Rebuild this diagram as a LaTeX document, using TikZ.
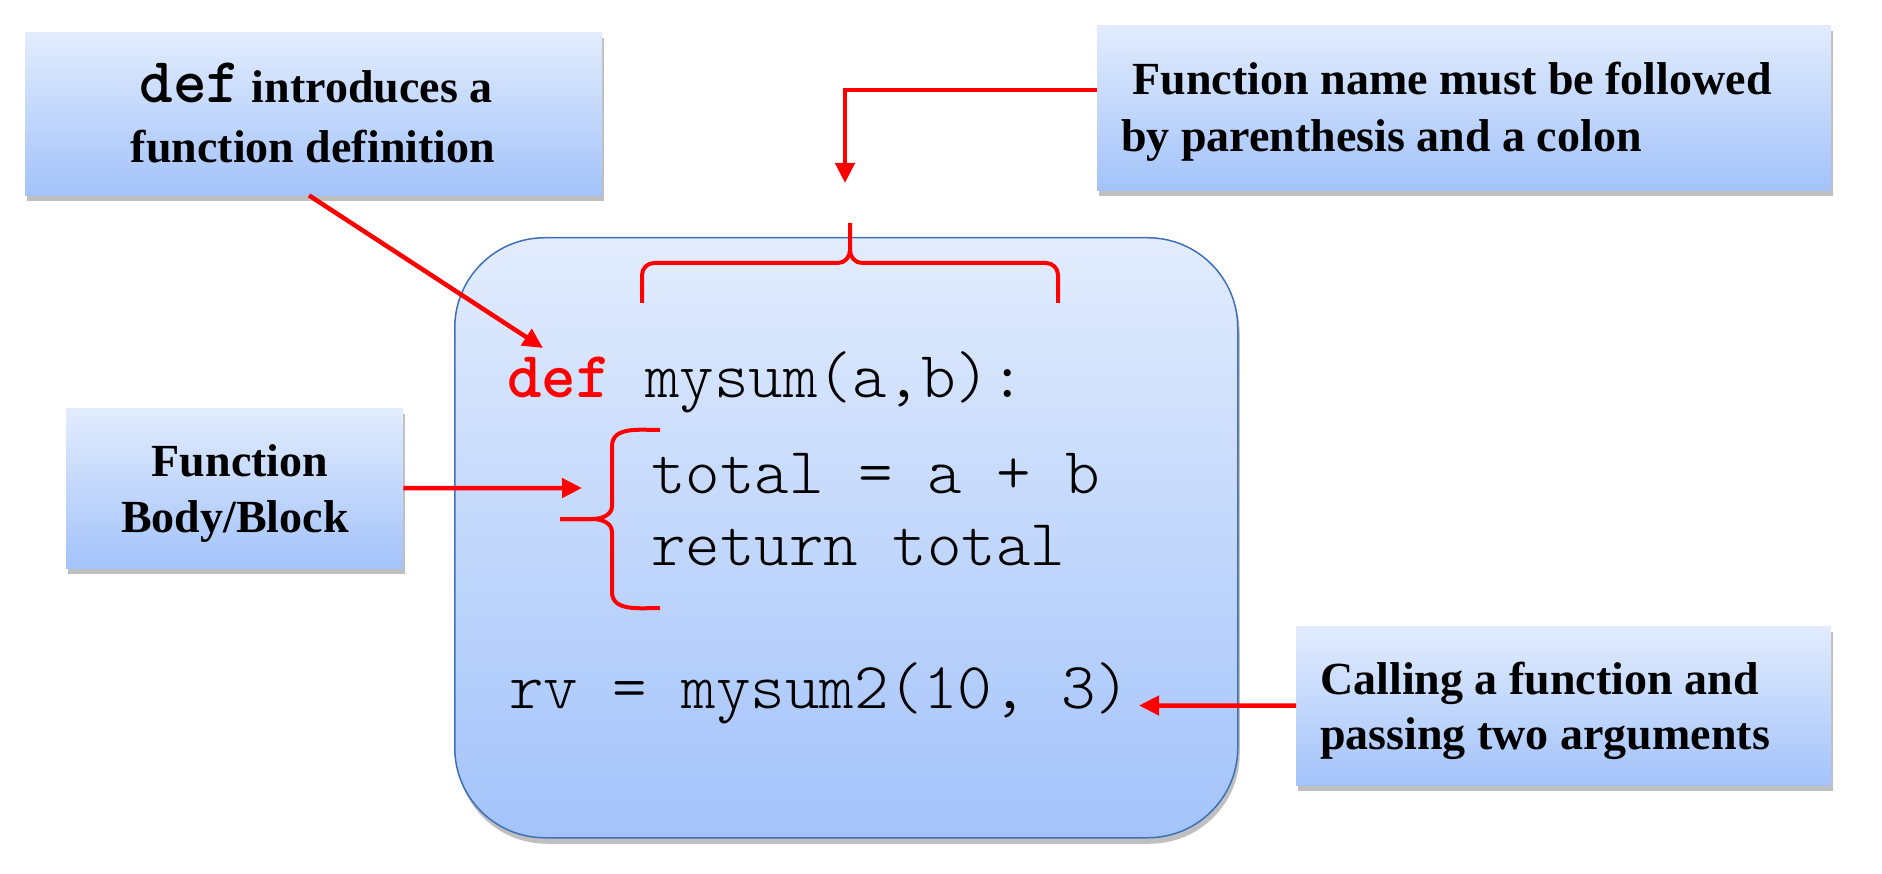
\documentclass[tikz,border=0pt]{standalone}
\usepackage{fontspec}
\setmainfont{Liberation Serif}
\newfontfamily\codefont{Latin Modern Mono Light}
\usetikzlibrary{arrows.meta,shadows}
\definecolor{boxtop}{RGB}{226,236,253}
\definecolor{boxbot}{RGB}{163,195,250}
\definecolor{mainedge}{RGB}{62,112,182}
\definecolor{brightred}{RGB}{255,0,0}
\tikzset{
  labelbox/.style={draw=none, inner sep=0pt, anchor=north west,
    top color=boxtop, bottom color=boxbot,
    drop shadow={shadow xshift=2pt, shadow yshift=-6pt, opacity=0.25, fill=black}},
  mainbox/.style={draw=mainedge, line width=1.5pt, inner sep=0pt, anchor=north west,
    rounded corners=90pt, top color=boxtop, bottom color=boxbot,
    drop shadow={shadow xshift=2pt, shadow yshift=-6pt, opacity=0.25, fill=black}},
  lbl/.style={font=\fontsize{46}{57}\selectfont\bfseries, inner sep=0pt},
  code/.style={font=\fontsize{65.7}{75}\selectfont\codefont, inner sep=0pt, anchor=base west},
  redarrow/.style={draw=brightred, line width=4.5pt, -{Triangle[length=20pt,width=19pt]}},
  redbrace/.style={draw=brightred, line width=4pt}
}
\newcommand{\defword}{{\fontsize{64}{66}\selectfont\codefont\bfseries def}}
\begin{document}
\begin{tikzpicture}[x=1pt,y=1pt]
\useasboundingbox (0,0) rectangle (1882,-874);
\fill[white] (0,0) rectangle (1882,-874);

% boxes
\node[labelbox, minimum width=577pt, minimum height=163pt] (b1) at (25,-32) {};
\node[labelbox, minimum width=734pt, minimum height=165pt] (b3) at (1097,-25) {};
\node[labelbox, minimum width=337pt, minimum height=160pt] (b2) at (66,-408) {};
\node[labelbox, minimum width=535pt, minimum height=159pt] (b4) at (1296,-626) {};
\node[mainbox, minimum width=783pt, minimum height=600pt] (main) at (454,-237) {};

% label texts
\node[lbl, anchor=base] (t1a) at (316,-103) {\defword{} introduces a};
\node[lbl, anchor=base] (t1b) at (313,-163) {function definition};
\node[lbl, anchor=base west] (t3a) at (1121,-95) {\hspace{0.25em}Function name must be followed};
\node[lbl, anchor=base west] (t3b) at (1121,-152) {by parenthesis and a colon};
\node[lbl, anchor=base] (t2a) at (240,-476) {Function};
\node[lbl, anchor=base] (t2b) at (235,-532) {Body/Block};
\node[lbl, anchor=base west] (t4a) at (1320,-694) {Calling a function and};
\node[lbl, anchor=base west] (t4b) at (1320,-749) {passing two arguments};

% code
\node[code] (c1) at (507,-398) {\textcolor{brightred}{\bfseries def} mysum(a,b):};
\node[code] (c2) at (651,-493) {total = a + b};
\node[code] (c3) at (651,-565) {return total};
\node[code] (c4) at (509,-708) {rv = mysum2(10, 3)};

% top brace
\draw[redbrace] (642,-303) -- (642,-275) to[out=90,in=180] (654,-263) -- (838,-263)
  to[out=0,in=-90] (850,-250) -- (850,-223);
\draw[redbrace] (850,-250) to[out=-90,in=180] (862,-263) -- (1046,-263)
  to[out=0,in=90] (1058,-275) -- (1058,-303);

% left brace
\draw[redbrace] (660,-430) to[out=180,in=90] (612,-446) -- (612,-506)
  to[out=-90,in=0] (592,-519) -- (560,-519);
\draw[redbrace] (560,-519) -- (592,-519) to[out=0,in=90] (612,-532) -- (612,-592)
  to[out=-90,in=180] (660,-608);

% arrow targets
\coordinate (deftip) at (543,-348);
\coordinate (bend) at (845,-90);
\coordinate (nametip) at (845,-183);
\coordinate (bodytip) at (582,-488);
\coordinate (calltip) at (1139,-705.5);

% connectors
\draw[redarrow] (b1.south -| 309,0) -- (deftip);
\draw[redarrow] (b3.west |- bend) -- (bend) -- (nametip);
\draw[redarrow] (b2.east) -- (bodytip);
\draw[redarrow] (b4.west) -- (calltip);
\end{tikzpicture}
\end{document}
